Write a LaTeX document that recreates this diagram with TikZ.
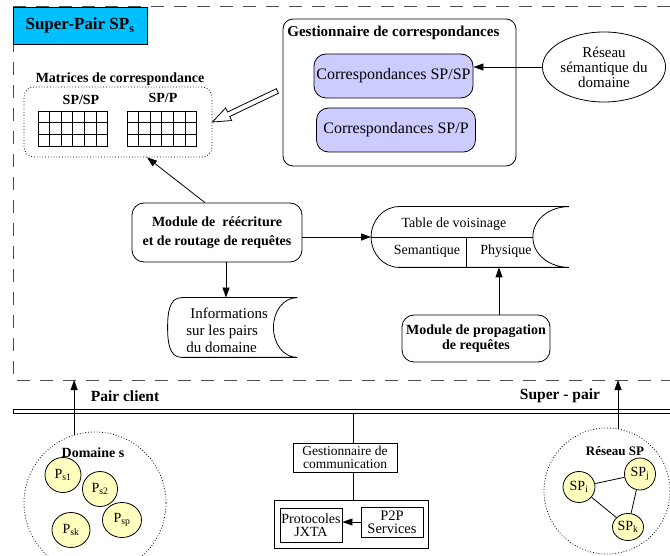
\documentclass[tikz,border=0pt]{standalone}
\usepackage{fontspec}
\setmainfont{Liberation Serif}
\usepackage{tikz}
\usetikzlibrary{arrows.meta,shapes.geometric}
\definecolor{ciel}{RGB}{0,191,255}
\definecolor{lavande}{RGB}{204,204,255}
\definecolor{creme}{RGB}{255,255,192}
\newcommand{\taille}[2]{\fontsize{#1}{#2}\selectfont}

\begin{document}
\begin{tikzpicture}[x=1pt,y=-1pt,line width=0.8pt,
  fleche/.style={-{Triangle[length=10pt,width=7pt]}},
  tirets/.style={black!70,line width=0.9pt,dash pattern=on 13pt off 10pt},
  module/.style={draw,rounded corners=12pt,align=center,inner sep=0pt,font=\taille{14}{16}\bfseries},
  corresp/.style={draw,fill=lavande,rounded corners=12pt,minimum width=159pt,minimum height=44pt,inner sep=0pt,font=\taille{16}{18}},
  cadre/.style={draw,inner sep=0pt,align=center},
  pair/.style={draw,ellipse,fill=creme,inner sep=0pt,font=\taille{14}{16}},
  groupe/.style={draw,circle,dotted,inner sep=0pt}]
\useasboundingbox (0,0) rectangle (670,556);
% cadre du super-pair
\draw[tirets] (670,6) -- (13,6) -- (13,380) -- (670,380);
\node[draw,fill=ciel,minimum width=134pt,minimum height=37pt,inner sep=0pt] (titre) at (80,25.5) {\taille{17}{19}\bfseries Super-Pair SP\textsubscript{s}};
% gestionnaire de correspondances
\node[draw,rounded corners=10pt,minimum width=233pt,minimum height=147pt] (gestcor) at (399.5,92.5) {};
\node[anchor=west,inner sep=0pt] (gesttitre) at (287,33) {\taille{15}{17}\bfseries Gestionnaire de correspondances};
\node[corresp] (corsp) at (393.5,76) {Correspondances SP/SP};
\node[corresp] (corp) at (396,130) {Correspondances SP/P};
\node[draw,ellipse,minimum width=110pt,minimum height=70pt,inner sep=0pt,align=center,font=\taille{15}{15}] (reseau) at (604,67) {R\'eseau\\s\'emantique du\\domaine};
\draw[fleche] (reseau.west) -- (reseau.west -| corsp.east);
% matrices de correspondance
\node[inner sep=0pt] (mattitre) at (120,79) {\taille{14}{16}\bfseries Matrices de correspondance};
\node[draw,dotted,rounded corners=10pt,minimum width=188pt,minimum height=70pt] (matrices) at (118,122) {};
\node[inner sep=0pt] (matsp) at (81,100) {\taille{14}{16}\bfseries SP/SP};
\node[inner sep=0pt] (matp) at (163,98) {\taille{14}{16}\bfseries SP/P};
\foreach \gx in {38,127}{
  \foreach \i in {0,...,6} \draw (\gx+\i*11.6,111) -- (\gx+\i*11.6,146);
  \foreach \j in {0,...,3} \draw (\gx,111+\j*11.67) -- (\gx+69.6,111+\j*11.67);
}
% fleche creuse vers les matrices
\begin{scope}[shift={(matrices.east)},rotate=25.5]
\draw[fill=white] (0,0) -- (18,7) -- (18,2.5) -- (72,2.5) -- (72,-2.5) -- (18,-2.5) -- (18,-7) -- cycle;
\end{scope}
% module de reecriture et routage
\node[module,minimum width=170pt,minimum height=59pt,font=\taille{14}{19}\bfseries] (routage) at (217,232.5) {Module de\ \ r\'e\'ecriture\\et de routage de requ\^etes};
\draw[fleche] ([xshift=-12pt]routage.north) -- ([xshift=29pt]matrices.south);
% table de voisinage
\node[minimum width=197pt,minimum height=60pt,inner sep=0pt] (tab) at (470,237) {};
\draw ([xshift=28pt]tab.north west) to[out=180,in=90] (tab.west) to[out=-90,in=180] ([xshift=28pt]tab.south west) -- (tab.south east) to[out=180,in=-90] ([xshift=-36pt]tab.east) to[out=90,in=180] (tab.north east) -- cycle;
\draw (tab.west) -- ([xshift=-36pt]tab.east);
\draw ([xshift=-4pt]tab.center) -- ([xshift=-4pt]tab.south);
\node[inner sep=0pt] (tabtitre) at (454,224) {\taille{14}{16}Table de voisinage};
\node[inner sep=0pt] (tabsem) at (427,251) {\taille{14}{16}Semantique};
\node[inner sep=0pt] (tabphy) at (506,251) {\taille{14}{16}Physique};
\draw[fleche] (routage.east |- tab.west) -- (tab.west);
% module de propagation
\node[module,minimum width=148pt,minimum height=47pt,font=\taille{14}{15}\bfseries] (propag) at (476,338.5) {Module de propagation\\de requ\^etes};
\draw[fleche] ([xshift=23pt]propag.north) -- ([xshift=23pt]propag.north |- tab.south);
% informations sur les pairs
\node[minimum width=129pt,minimum height=59pt,inner sep=0pt] (inf) at (232.5,327.5) {};
\draw ([xshift=14pt]inf.north west) to[out=180,in=90] (inf.west) to[out=-90,in=180] ([xshift=14pt]inf.south west) -- (inf.south east) to[out=180,in=-90] ([xshift=-24pt]inf.east) to[out=90,in=180] (inf.north east) -- cycle;
\node[anchor=west,inner sep=0pt,align=left,font=\taille{15}{17}] (inftexte) at (186,330) {\hspace*{4pt}Informations\\sur les pairs\\du domaine};
\draw[fleche] ([xshift=9pt]routage.south) -- ([xshift=9pt]routage.south |- inf.north);
% bus de communication
\coordinate (busg) at (13,409);
\coordinate (busc) at (353,413);
\coordinate (pc) at (74,380);
\coordinate (sp) at (617,380);
\draw (672,409) -- (busg) -- (13,413) -- (672,413);
\node[inner sep=0pt] (pairclient) at (125,396) {\taille{15.5}{17}\bfseries Pair client};
\node[inner sep=0pt] (superpair) at (560,396) {\taille{15.5}{17}\bfseries Super - pair};
% gestionnaire de communication
\node[cadre,minimum width=104pt,minimum height=29pt,font=\taille{13.5}{13}] (gcom) at (345,457.5) {Gestionnaire de\\communication};
\node[cadre,minimum width=154pt,minimum height=48pt] (jxta) at (351,524) {};
\node[cadre,minimum width=62pt,minimum height=34pt,font=\taille{14}{13}] (proto) at (311,525) {Protocoles\\JXTA};
\node[cadre,minimum width=62pt,minimum height=30pt,font=\taille{14.5}{13}] (p2p) at (392,522) {P2P\\Services};
\draw (busc) -- (busc |- gcom.north);
\draw (busc |- gcom.south) -- (busc |- jxta.north);
\draw[fleche] (p2p.west) -- (p2p.west -| proto.east);
% domaine s
\node[groupe,minimum size=142pt] (domaine) at (95,503) {};
\node[inner sep=0pt] (domtitre) at (93,453) {\taille{14}{16}\bfseries Domaine s};
\node[pair,minimum width=36pt,minimum height=35pt] (ps1) at (63,475) {P\textsubscript{s1}};
\node[pair,minimum width=35pt,minimum height=35pt] (ps2) at (100,489) {P\textsubscript{s2}};
\node[pair,minimum width=39pt,minimum height=35pt] (psp) at (122,520) {P\textsubscript{sp}};
\node[pair,minimum width=38pt,minimum height=35pt] (psk) at (71,530) {P\textsubscript{sk}};
\draw[fleche] (domaine.107) -- (domaine.107 |- pc);
% reseau des super-pairs
\node[groupe,minimum size=126pt] (resp) at (607,491) {};
\node[inner sep=0pt] (restitre) at (615,451) {\taille{13}{15}\bfseries R\'eseau SP};
\node[pair,minimum width=32pt,minimum height=31pt] (spi) at (579,487) {SP\textsubscript{i}};
\node[pair,minimum width=31pt,minimum height=32pt] (spj) at (640,474) {SP\textsubscript{j}};
\node[pair,minimum width=31pt,minimum height=27pt] (spk) at (628,527) {SP\textsubscript{k}};
\draw (spi) -- (spj);
\draw (spi) -- (spk);
\draw (spj) -- (spk);
\draw[fleche] (resp.80) -- (resp.80 |- sp);
\end{tikzpicture}
\end{document}
